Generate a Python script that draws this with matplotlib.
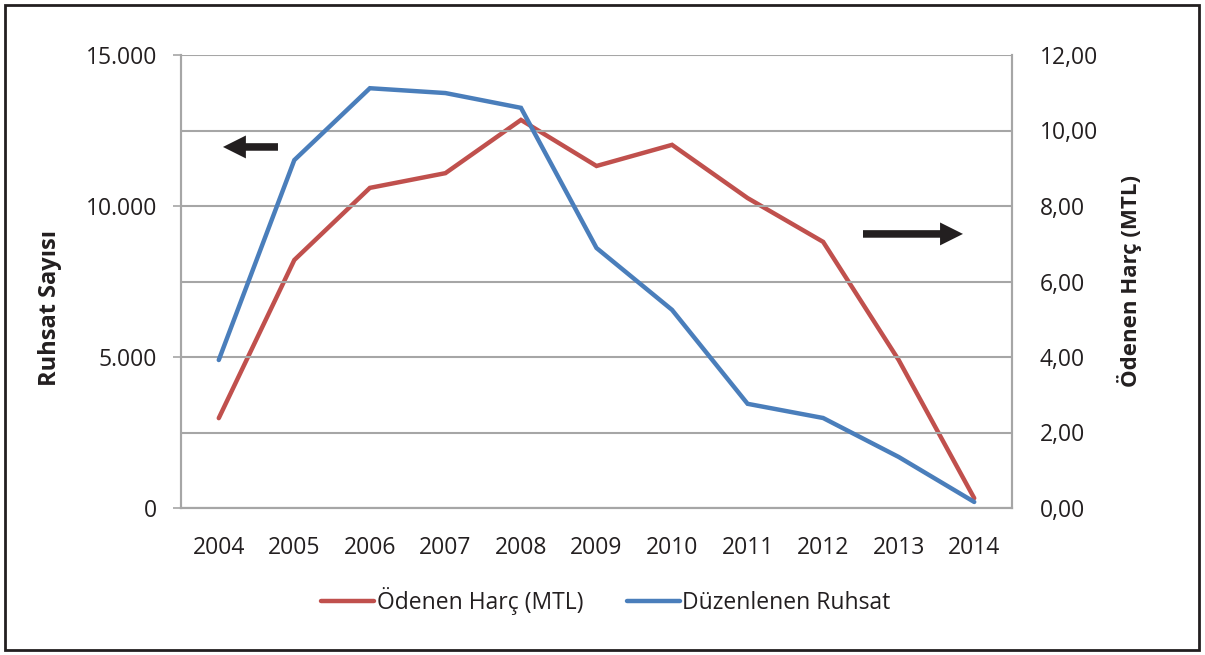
import matplotlib
matplotlib.use("Agg")
import matplotlib.pyplot as plt
from matplotlib.patches import Rectangle
from matplotlib.ticker import FuncFormatter, MultipleLocator

plt.rcParams["font.family"] = ["Open Sans", "DejaVu Sans"]

YEARS = ["2004", "2005", "2006", "2007", "2008", "2009", "2010", "2011", "2012", "2013", "2014"]
# Düzenlenen Ruhsat (left axis, count)
RUHSAT = [4900, 11520, 13900, 13740, 13250, 8610, 6560, 3450, 2980, 1690, 200]
# Ödenen Harç, MTL (right axis)
HARC = [2.38, 6.57, 8.48, 8.87, 10.28, 9.06, 9.62, 8.21, 7.05, 3.92, 0.26]

RED = "#C0504D"
BLUE = "#4A7EBB"
GRID = "#A6A6A6"
TEXT = "#231F20"

fig = plt.figure(figsize=(12.05, 6.55), dpi=100)
ax = fig.add_axes([181 / 1205, 147 / 655, 831 / 1205, 453 / 655])
ax2 = ax.twinx()

# red on the secondary axis, blue drawn on top
ax.set_zorder(2)
ax.patch.set_visible(False)
ax2.set_zorder(1)

x = list(range(len(YEARS)))
ax2.plot(x, HARC, color=RED, lw=3.2, solid_capstyle="round", solid_joinstyle="miter")
ax.plot(x, RUHSAT, color=BLUE, lw=3.2, solid_capstyle="round", solid_joinstyle="miter")

ax.set_xlim(-0.5, len(YEARS) - 0.5)
ax.set_ylim(0, 15000)
ax2.set_ylim(0, 12)

ax.set_xticks(x)
ax.set_xticklabels(YEARS)
ax.yaxis.set_major_locator(MultipleLocator(5000))
ax.yaxis.set_minor_locator(MultipleLocator(2500))
ax.yaxis.set_major_formatter(FuncFormatter(lambda v, p: f"{int(v):,}".replace(",", ".")))
ax2.yaxis.set_major_locator(MultipleLocator(2))
ax2.yaxis.set_major_formatter(FuncFormatter(lambda v, p: f"{v:.2f}".replace(".", ",")))

ax.grid(True, axis="y", which="both", color=GRID, lw=1.5)
ax2.grid(False)

FS = 16.5
ax.tick_params(axis="y", which="major", length=5.8, width=1.2, color=GRID, labelsize=FS,
               labelcolor=TEXT, pad=11.5)
ax.tick_params(axis="y", which="minor", length=0)
ax.tick_params(axis="x", length=0, labelsize=FS, labelcolor=TEXT, pad=20.5)
ax2.tick_params(axis="y", length=0, labelsize=FS, labelcolor=TEXT, pad=20)

for a in (ax, ax2):
    a.spines["top"].set_visible(False)
    for s in ("left", "right", "bottom"):
        a.spines[s].set_color(GRID)
        a.spines[s].set_linewidth(1.5)

fig.text(50 / 1205, 1 - 308 / 655, "Ruhsat Sayısı", rotation=90, ha="center", va="center",
         fontsize=17, fontweight="bold", color=TEXT)
fig.text(1130 / 1205, 1 - 281 / 655, "Ödenen Harç (MTL)", rotation=90, ha="center", va="center",
         fontsize=16, fontweight="bold", color=TEXT)

# direction arrows
arrow_kw = dict(arrowstyle="simple,head_length=1.0,head_width=1.0,tail_width=0.33",
                mutation_scale=16.5, color=TEXT, lw=0, shrinkA=0, shrinkB=0)
ax.annotate("", xy=(0.0505, 0.797), xytext=(0.1167, 0.797), xycoords="axes fraction",
            arrowprops=arrow_kw)
ax.annotate("", xy=(0.941, 0.605), xytext=(0.8207, 0.605), xycoords="axes fraction",
            arrowprops=arrow_kw)

handles = [plt.Line2D([], [], color=RED, lw=3.2, solid_capstyle="round"),
           plt.Line2D([], [], color=BLUE, lw=3.2, solid_capstyle="round")]
fig.legend(handles, ["Ödenen Harç (MTL)", "Düzenlenen Ruhsat"], loc="center",
           bbox_to_anchor=(606 / 1205, 1 - 601 / 655), ncol=2, frameon=False, fontsize=FS,
           handlelength=2.3, handletextpad=0.12, columnspacing=1.9, labelcolor=TEXT)

fig.patches.append(Rectangle((5 / 1205, 5 / 655), 1194 / 1205, 645 / 655, transform=fig.transFigure,
                             fill=False, edgecolor=TEXT, lw=2))

fig.savefig("out.png", dpi=100)
